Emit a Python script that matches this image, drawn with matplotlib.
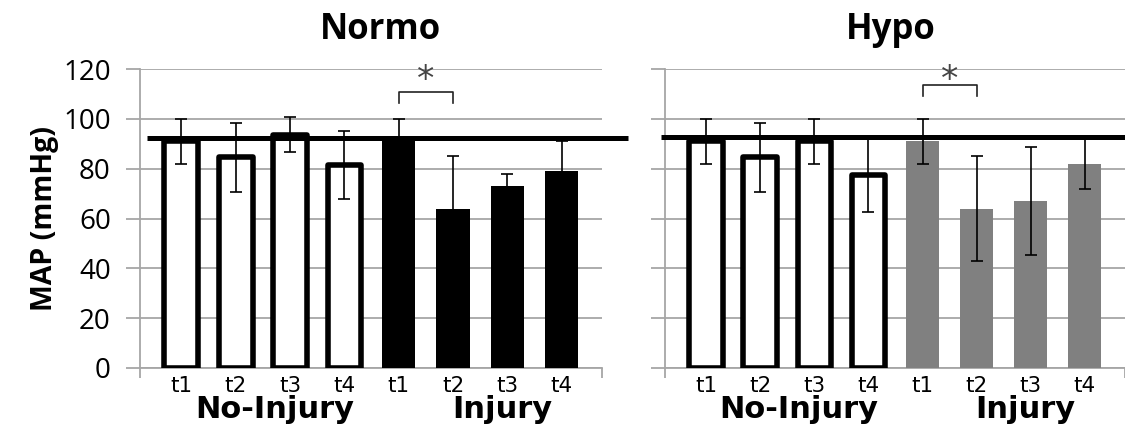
import matplotlib.pyplot as plt
import numpy as np

# données
temps = ['t1', 't2', 't3', 't4', 't1', 't2', 't3', 't4']
groupes = ['No-Injury', 'Injury']

normo_moy = [91, 84.5, 93.7, 81.5, 92, 64, 73, 79]
normo_err = [9, 14, 7, 13.7, 8, 21, 5, 12]
normo_base = 92.2

hypo_moy = [91, 84.5, 91, 77.5, 91, 64, 67, 82]
hypo_err = [9, 14, 9, 15, 9, 21, 21.5, 10]
hypo_base = 92.6

# crochet de significativité (indices des barres, y bas, y haut)
normo_sig = (4, 5, 106.5, 110.8)
hypo_sig = (4, 5, 109.2, 113.6)

W, H = 1125, 434
plt.rcParams['font.family'] = ['Open Sans', 'DejaVu Sans']
fig = plt.figure(figsize=(W / 100, H / 100), dpi=100)

GRIS = '#a6a6a6'


def panneau(px0, px1, moy, err, base, sig, couleur_inj, ylab):
    ax = fig.add_axes([px0 / W, (H - 368) / H, (px1 - px0) / W, (368 - 69) / H])
    x = np.arange(len(moy))
    # barres vides (No-Injury)
    ax.bar(x[:4], moy[:4], width=0.62, facecolor='white', edgecolor='black',
           linewidth=4, joinstyle='round', zorder=3)
    # barres pleines (Injury)
    ax.bar(x[4:], moy[4:], width=0.61, color=couleur_inj, linewidth=0, zorder=3)
    ax.errorbar(x, moy, yerr=err, fmt='none', ecolor='black', elinewidth=1.2,
                capsize=4.5, capthick=1.2, zorder=4)
    # ligne de base
    ax.plot([-0.635 if ylab else -0.84, 8.22 if ylab else 7.75], [base, base],
            color='black', linewidth=3.6, solid_capstyle='butt', zorder=5, clip_on=False)
    # crochet + étoile
    i, j, y0, y1 = sig
    ax.plot([x[i], x[i], x[j], x[j]], [y0, y1, y1, y0], color='#222222',
            linewidth=1.2, zorder=5, clip_on=False)
    ax.text((x[i] + x[j]) / 2, 115.5, '*', ha='center', va='center', fontsize=25,
            color='#444444', family='DejaVu Sans', zorder=6, clip_on=False)

    ax.set_xlim(-0.76, 7.74)
    ax.set_ylim(0, 120)
    ax.set_yticks(np.arange(0, 121, 20))
    ax.yaxis.grid(True, color=GRIS, linewidth=1.3, zorder=0)
    ax.set_axisbelow(True)
    for s in ['top', 'right']:
        ax.spines[s].set_visible(False)
    for s in ['left', 'bottom']:
        ax.spines[s].set_color(GRIS)
        ax.spines[s].set_linewidth(1.3)
    ax.tick_params(axis='y', length=10, color=GRIS, width=1.3, labelsize=20, pad=11)
    if not ylab:
        ax.tick_params(axis='y', labelleft=False)
    ax.set_xticks(x)
    ax.set_xticklabels(temps, fontsize=15.5, family='DejaVu Sans')
    ax.tick_params(axis='x', length=0, pad=6)
    ax.set_xticks([-0.76, 7.74], minor=True)
    ax.tick_params(axis='x', which='minor', length=7, color=GRIS, width=1.3)

    ax.text(1.72, -16.5, groupes[0], ha='center', va='center', fontsize=22,
            fontweight='bold', family='DejaVu Sans', clip_on=False)
    ax.text(5.9, -16.5, groupes[1], ha='center', va='center', fontsize=22,
            fontweight='bold', family='DejaVu Sans', clip_on=False)
    if ylab:
        ax.set_ylabel('MAP (mmHg)', fontsize=20.5, fontweight='bold', labelpad=3)
    return ax


panneau(140, 602, normo_moy, normo_err, normo_base, normo_sig, 'black', True)
panneau(665, 1125, hypo_moy, hypo_err, hypo_base, hypo_sig, '#808080', False)

fig.text(380 / W, 1 - 30 / H, 'Normo', ha='center', va='center', fontsize=25,
         fontweight='bold')
fig.text(891 / W, 1 - 30 / H, 'Hypo', ha='center', va='center', fontsize=25,
         fontweight='bold')

fig.savefig('out.png', dpi=100)
